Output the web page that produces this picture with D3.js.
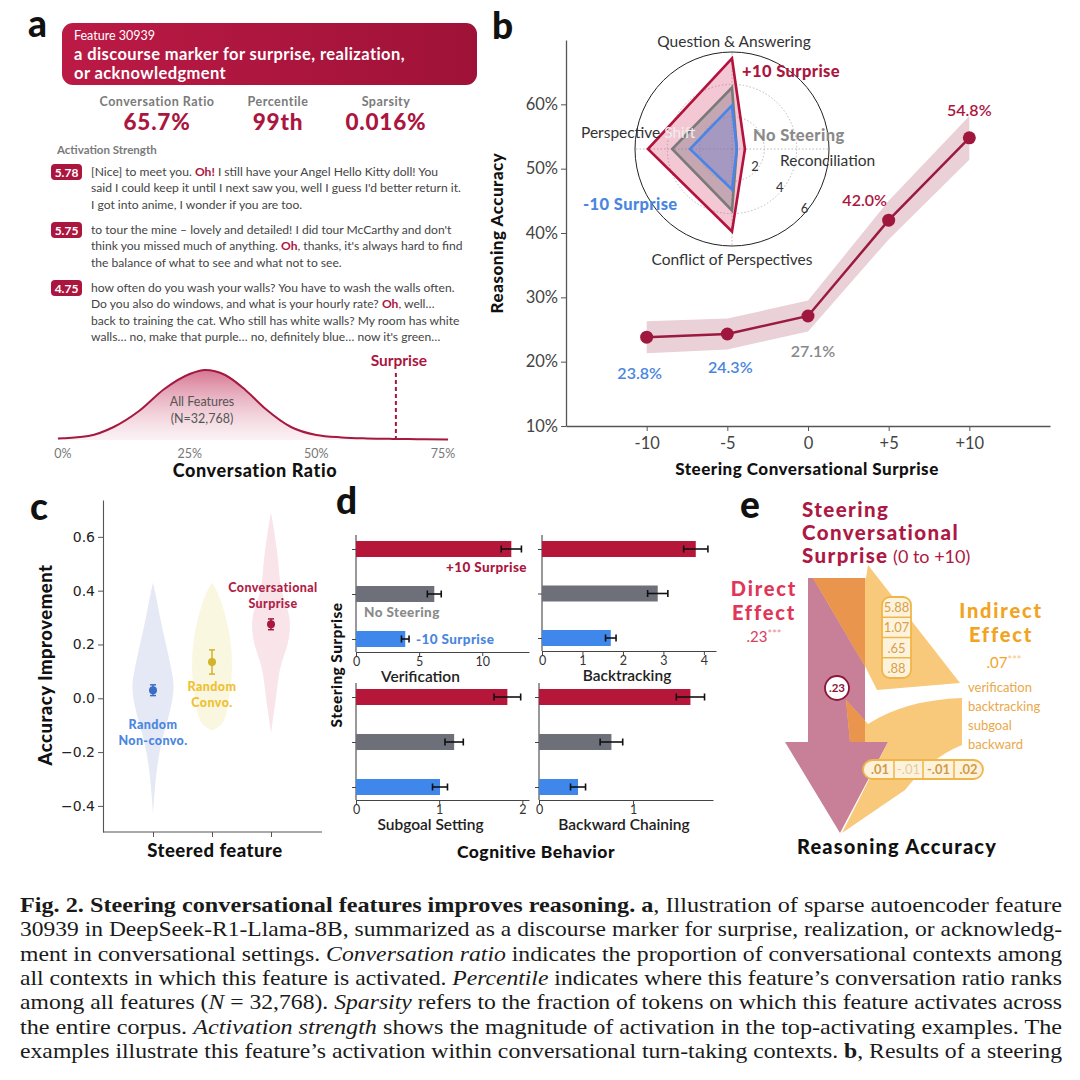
<!DOCTYPE html>
<html><head><meta charset="utf-8">
<script src="https://cdn.jsdelivr.net/npm/d3@7"></script>
<style>
  body { margin: 0; background: #fff; }
  #fig { font-family: Lato, "Open Sans", sans-serif; }
  #fig text { white-space: pre; }
</style></head>
<body>
<svg id="fig" width="1080" height="1080"></svg>
<script>
// ---------- data: panel a ----------
var featureId = "Feature 30939";
var featureDesc = ["a discourse marker for surprise, realization,", "or acknowledgment"];
var statLabels = ["Conversation Ratio", "Percentile", "Sparsity"];
var statValues = ["65.7%", "99th", "0.016%"];
var activations = ["5.78", "5.75", "4.75"];
var examples = [
  ["[Nice] to meet you. *Oh!* I still have your Angel Hello Kitty doll! You",
   "said I could keep it until I next saw you, well I guess I'd better return it.",
   "I got into anime, I wonder if you are too."],
  ["to tour the mine \u2013 lovely and detailed! I did tour McCarthy and don't",
   "think you missed much of anything. *Oh*, thanks, it's always hard to find",
   "the balance of what to see and what not to see."],
  ["how often do you wash your walls? You have to wash the walls often.",
   "Do you also do windows, and what is your hourly rate? *Oh*, well\u2026",
   "back to training the cat. Who still has white walls? My room has white",
   "walls\u2026 no, make that purple\u2026 no, definitely blue\u2026 now it's green\u2026"]
];
var ratioPct = [-1, 0, 5, 10, 15, 20, 25, 28, 32, 36, 40, 45, 50, 55, 60, 65, 70, 76];
var ratioDensity = [1.5, 1.8, 4, 13, 29, 51, 66, 70, 65, 50, 31, 13, 5, 2.6, 1.6, 1.1, 0.8, 0.6];
var ratioTicks = [0, 25, 50, 75];
var surpriseRatio = 65.7;

// ---------- data: panel b ----------
var steerLevels = [-10, -5, 0, 5, 10];
var accuracy = [23.8, 24.3, 27.1, 42.0, 54.8];
var accuracyCI = [2.5, 2.4, 2.4, 3.0, 3.4];
var accTicks = [10, 20, 30, 40, 50, 60];
var radarAxes = ["Question & Answering", "Reconciliation", "Conflict of Perspectives", "Perspective Shift"];
var radarPlus10 = [5.6, 0.8, 5.1, 5.2];
var radarNoSteer = [3.8, 0.3, 3.8, 3.7];
var radarMinus10 = [2.7, 0.3, 2.5, 2.6];
var radarRings = [2, 4, 6];

// ---------- data: panel c ----------
var steeredFeatures = ["Random Non-convo.", "Random Convo.", "Conversational Surprise"];
var improvementMean = [0.03, 0.135, 0.275];
var improvementErr = [0.02, 0.045, 0.02];
var improvementTicks = [-0.4, -0.2, 0.0, 0.2, 0.4, 0.6];
// violin outlines: [value, half width]
var violinNonConvo = [[-0.43, 0], [-0.35, 1.5], [-0.25, 4], [-0.15, 9], [-0.08, 15], [0, 20], [0.05, 21], [0.1, 19], [0.2, 13], [0.3, 7], [0.38, 3], [0.43, 0]];
var violinConvo = [[-0.12, 0], [-0.1, 11], [-0.05, 15], [0, 17], [0.05, 19], [0.1, 20], [0.15, 20], [0.2, 19], [0.25, 17], [0.3, 14], [0.35, 10], [0.4, 5], [0.43, 0]];
var violinSurprise = [[-0.13, 0], [-0.05, 3], [0, 5], [0.1, 8], [0.15, 12], [0.2, 17], [0.25, 19], [0.3, 19], [0.35, 15], [0.4, 10], [0.45, 8.5], [0.5, 7.5], [0.55, 6], [0.6, 4], [0.65, 2], [0.69, 0]];

// ---------- data: panel d ----------
var steerGroups = ["+10 Surprise", "No Steering", "-10 Surprise"];
var behaviors = ["Verification", "Backtracking", "Subgoal Setting", "Backward Chaining"];
var verification = [12.3, 6.2, 3.9];
var verificationErr = [0.8, 0.55, 0.3];
var backtracking = [3.8, 2.86, 1.7];
var backtrackingErr = [0.3, 0.25, 0.13];
var subgoal = [1.82, 1.18, 1.01];
var subgoalErr = [0.16, 0.11, 0.09];
var backward = [1.61, 0.77, 0.415];
var backwardErr = [0.15, 0.12, 0.08];
var behaviorTicks = [[0, 5, 10], [0, 1, 2, 3, 4], [0, 1, 2], [0, 1]];
var behaviorMax = [13.7, 4.3, 2.08, 1.85];

// ---------- data: panel e ----------
var mediators = ["verification", "backtracking", "subgoal", "backward"];
var pathA = ["5.88", "1.07", ".65", ".88"];
var pathB = [".01", "-.01", "-.01", ".02"];
var directEffect = ".23";
var indirectEffect = ".07";

// ---------- styles ----------
var CRIMSON = "#ab163f", BLUE = "#4a86e0", GRAY = "#7d7d7d";
var svg = d3.select("#fig");
var defs = svg.append("defs");

function letter(t, x, y) {
  svg.append("text").attr("x", x).attr("y", y).text(t)
    .style("font-size", "37px").style("font-weight", 900).attr("fill", "#111");
}

// =============== panel a ===============
var hdr = defs.append("linearGradient").attr("id", "hdr");
hdr.append("stop").attr("offset", 0).attr("stop-color", "#bb1a45");
hdr.append("stop").attr("offset", 1).attr("stop-color", "#9f1238");
var ga = svg.append("g");
letter("a", 28, 37);
ga.append("rect").attr("x", 62).attr("y", 23).attr("width", 415).attr("height", 62).attr("rx", 11).attr("fill", "url(#hdr)");
ga.append("text").attr("x", 74).attr("y", 40).text(featureId).attr("fill", "#fff").style("font-size", "12.5px");
featureDesc.forEach(function(t, i) {
  ga.append("text").attr("x", 74).attr("y", 60 + i * 19).text(t).attr("fill", "#fff")
    .style("font-size", "16.5px").style("font-weight", 700).style("letter-spacing", "0.4px");
});
var statX = [157, 278, 386];
statLabels.forEach(function(t, i) {
  ga.append("text").attr("x", statX[i]).attr("y", 106).attr("text-anchor", "middle").text(t)
    .attr("fill", "#7a7a7a").style("font-size", "12.5px").style("font-weight", 700).style("letter-spacing", "0.5px");
  ga.append("text").attr("x", statX[i]).attr("y", 130).attr("text-anchor", "middle").text(statValues[i])
    .attr("fill", CRIMSON).style("font-size", "22.5px").style("font-weight", 900).style("letter-spacing", "0.8px");
});
ga.append("text").attr("x", 57).attr("y", 154).text("Activation Strength").attr("fill", "#7a7a7a")
  .style("font-size", "11.5px").style("font-weight", 700);

var exTop = [172, 230, 288];
examples.forEach(function(lines, k) {
  ga.append("rect").attr("x", 51).attr("y", exTop[k] - 8).attr("width", 31).attr("height", 16).attr("rx", 4).attr("fill", CRIMSON);
  ga.append("text").attr("x", 66.5).attr("y", exTop[k] + 4.5).attr("text-anchor", "middle").text(activations[k])
    .attr("fill", "#fff").style("font-size", "12px").style("font-weight", 700);
  lines.forEach(function(line, j) {
    var t = ga.append("text").attr("x", 91).attr("y", exTop[k] + 4 + j * 16.4)
      .attr("fill", "#444").style("font-size", "12.1px");
    line.split("*").forEach(function(part, p) {
      var s = t.append("tspan").text(part);
      if (p % 2 === 1) s.attr("fill", CRIMSON).style("font-weight", 700);
    });
  });
});

// distribution of conversation ratio
var rx = d3.scaleLinear().domain([0, 75]).range([63, 443]);
var ry = d3.scaleLinear().domain([0, 70]).range([440, 370]);
var dg = defs.append("linearGradient").attr("id", "dens").attr("x1", 0).attr("x2", 0).attr("y1", 0).attr("y2", 1);
dg.append("stop").attr("offset", 0).attr("stop-color", "#c9486e").attr("stop-opacity", 0.75);
dg.append("stop").attr("offset", 1).attr("stop-color", "#f3d9e0").attr("stop-opacity", 0.35);
var dens = ratioPct.map(function(p, i) { return [p, ratioDensity[i]]; });
ga.append("path").datum(dens)
  .attr("d", d3.area().curve(d3.curveMonotoneX).x(function(d) { return rx(d[0]); }).y0(ry(0)).y1(function(d) { return ry(d[1]); }))
  .attr("fill", "url(#dens)");
ga.append("path").datum(dens)
  .attr("d", d3.line().curve(d3.curveMonotoneX).x(function(d) { return rx(d[0]); }).y(function(d) { return ry(d[1]); }))
  .attr("fill", "none").attr("stroke", "#a5183f").attr("stroke-width", 2);
ga.append("line").attr("x1", rx(surpriseRatio)).attr("x2", rx(surpriseRatio)).attr("y1", 373).attr("y2", ry(0))
  .attr("stroke", "#a5183f").attr("stroke-width", 2).attr("stroke-dasharray", "4,3");
ga.append("text").attr("x", rx(surpriseRatio) + 3).attr("y", 366).attr("text-anchor", "middle").text("Surprise")
  .attr("fill", CRIMSON).style("font-size", "15.5px").style("font-weight", 700);
ga.append("text").attr("x", 202).attr("y", 406).attr("text-anchor", "middle").text("All Features").attr("fill", "#555").style("font-size", "12.5px");
ga.append("text").attr("x", 202).attr("y", 423).attr("text-anchor", "middle").text("(N=32,768)").attr("fill", "#555").style("font-size", "12.5px");
ratioTicks.forEach(function(t) {
  ga.append("text").attr("x", rx(t)).attr("y", 458).attr("text-anchor", "middle").text(t + "%")
    .attr("fill", "#777").style("font-size", "12.5px");
});
ga.append("text").attr("x", 255).attr("y", 477).attr("text-anchor", "middle").text("Conversation Ratio")
  .attr("fill", "#111").style("font-size", "18px").style("font-weight", 900).style("letter-spacing", "0.6px");

// =============== panel b ===============
var gb = svg.append("g");
letter("b", 492, 39);
var bx = d3.scaleLinear().domain([-15, 15]).range([566, 1050]);
var by = d3.scaleLinear().domain([10, 70]).range([426, 40]);
var yAx = gb.append("g").attr("transform", "translate(566,0)")
  .call(d3.axisLeft(by).tickValues(accTicks).tickFormat(function(d) { return d + "%"; }).tickSize(5).tickSizeOuter(0));
var xAx = gb.append("g").attr("transform", "translate(0,426)")
  .call(d3.axisBottom(bx).tickValues(steerLevels).tickFormat(function(d) { return d > 0 ? "+" + d : d; }).tickSize(5).tickSizeOuter(0));
[yAx, xAx].forEach(function(ax) {
  ax.select(".domain").attr("stroke", "#555").attr("stroke-width", 1.3);
  ax.selectAll(".tick line").attr("stroke", "#555");
  ax.selectAll(".tick text").attr("fill", "#444").style("font-size", "16.5px").style("font-family", "Lato");
});
yAx.selectAll(".tick text").attr("x", -8);
xAx.selectAll(".tick text").attr("y", 11);
gb.append("text").attr("transform", "translate(503,233) rotate(-90)").attr("text-anchor", "middle").text("Reasoning Accuracy")
  .attr("fill", "#111").style("font-size", "17px").style("font-weight", 900).style("letter-spacing", "0.5px");
gb.append("text").attr("x", 807).attr("y", 475).attr("text-anchor", "middle").text("Steering Conversational Surprise")
  .attr("fill", "#111").style("font-size", "17px").style("font-weight", 900).style("letter-spacing", "0.5px");

var accPts = steerLevels.map(function(s, i) { return { s: s, v: accuracy[i], ci: accuracyCI[i] }; });
gb.append("path").datum(accPts)
  .attr("d", d3.area().x(function(d) { return bx(d.s); }).y0(function(d) { return by(d.v - d.ci); }).y1(function(d) { return by(d.v + d.ci); }))
  .attr("fill", "#ead0d7");
gb.append("path").datum(accPts)
  .attr("d", d3.line().x(function(d) { return bx(d.s); }).y(function(d) { return by(d.v); }))
  .attr("fill", "none").attr("stroke", "#9b1a3f").attr("stroke-width", 2.5);
gb.selectAll("circle.acc").data(accPts).enter().append("circle")
  .attr("cx", function(d) { return bx(d.s); }).attr("cy", function(d) { return by(d.v); }).attr("r", 6.5).attr("fill", "#a0173e");
var accLabelOff = [[-7, 42], [3, 39], [5, 41], [-24, -14], [0, -22]];
var accLabelCol = [BLUE, BLUE, "#888", CRIMSON, CRIMSON];
gb.selectAll("text.acc").data(accPts).enter().append("text")
  .attr("x", function(d, i) { return bx(d.s) + accLabelOff[i][0]; })
  .attr("y", function(d, i) { return by(d.v) + accLabelOff[i][1]; })
  .attr("text-anchor", "middle").text(function(d) { return d.v.toFixed(1) + "%"; })
  .attr("fill", function(d, i) { return accLabelCol[i]; }).style("font-size", "16px").style("font-weight", 600);

// radar
var rc = { x: 732, y: 149 };
var rr = d3.scaleLinear().domain([0, 6]).range([0, 97]);
var gr = gb.append("g").attr("transform", "translate(" + rc.x + "," + rc.y + ")");
gr.append("circle").attr("r", rr(6)).attr("fill", "#fff").attr("stroke", "#222").attr("stroke-width", 1);
radarRings.slice(0, 2).forEach(function(v) {
  gr.append("circle").attr("r", rr(v)).attr("fill", "none").attr("stroke", "#bbb").attr("stroke-dasharray", "1.5,2");
});
radarAxes.forEach(function(a, i) {
  var ang = i * Math.PI / 2;
  gr.append("line").attr("x1", 0).attr("y1", 0).attr("x2", rr(6) * Math.sin(ang)).attr("y2", -rr(6) * Math.cos(ang))
    .attr("stroke", "#bbb").attr("stroke-dasharray", "1.5,2");
});
var radarLine = d3.lineRadial().angle(function(d, i) { return i * Math.PI / 2; }).radius(function(d) { return rr(d); }).curve(d3.curveLinearClosed);
[[radarPlus10, "#b3123d", "rgba(214,70,110,0.3)"], [radarNoSteer, "#7a7a7a", "rgba(110,110,120,0.35)"], [radarMinus10, "#4a84e6", "rgba(110,130,220,0.35)"]]
  .forEach(function(s) {
    gr.append("path").attr("d", radarLine(s[0])).attr("fill", s[2]).attr("stroke", s[1]).attr("stroke-width", 2.6).attr("stroke-linejoin", "miter");
  });
var ringAng = 40 * Math.PI / 180;
radarRings.forEach(function(v) {
  gr.append("text").attr("x", (rr(v) - 10) * Math.cos(ringAng) + 6).attr("y", (rr(v) - 10) * Math.sin(ringAng) + 8)
    .attr("text-anchor", "middle").text(v).attr("fill", "#333").style("font-size", "13px");
});
gb.append("text").attr("x", 734).attr("y", 47).attr("text-anchor", "middle").text(radarAxes[0]).attr("fill", "#333").style("font-size", "15.5px");
gb.append("text").attr("x", 780).attr("y", 166).text(radarAxes[1]).attr("fill", "#333").style("font-size", "15.5px");
gb.append("text").attr("x", 732).attr("y", 265).attr("text-anchor", "middle").text(radarAxes[2]).attr("fill", "#333").style("font-size", "15.5px");
var ps = gb.append("text").attr("x", 581).attr("y", 138).attr("fill", "#333").style("font-size", "15.5px");
ps.append("tspan").text("Perspective");
ps.append("tspan").text(" Shift").attr("fill", "#eee");
gb.append("text").attr("x", 742).attr("y", 77).text(steerGroups[0]).attr("fill", CRIMSON).style("font-size", "16.5px").style("font-weight", 900).style("letter-spacing", "0.4px");
gb.append("text").attr("x", 753).attr("y", 141).text(steerGroups[1]).attr("fill", "#8a8a8a").style("font-size", "16.5px").style("font-weight", 900).style("letter-spacing", "0.4px");
gb.append("text").attr("x", 583).attr("y", 210).text(steerGroups[2]).attr("fill", BLUE).style("font-size", "16.5px").style("font-weight", 900).style("letter-spacing", "0.4px");

// =============== panel c ===============
var gc = svg.append("g");
letter("c", 30, 520);
var cx = d3.scalePoint().domain(steeredFeatures).range([153, 271]);
var cy = d3.scaleLinear().domain([-0.497, 0.737]).range([832, 500]);
var cAx = gc.append("g").attr("transform", "translate(103,0)")
  .call(d3.axisLeft(cy).tickValues(improvementTicks).tickFormat(d3.format(".1f")).tickSize(5).tickSizeOuter(0));
var cxAx = gc.append("g").attr("transform", "translate(0,832)")
  .call(d3.axisBottom(cx).tickFormat("").tickSize(5).tickSizeOuter(0));
cxAx.select(".domain").attr("d", "M103,0H322");
[cAx, cxAx].forEach(function(ax) {
  ax.select(".domain").attr("stroke", "#555").attr("stroke-width", 1.1);
  ax.selectAll(".tick line").attr("stroke", "#555");
});
cAx.selectAll(".tick text").attr("fill", "#222").style("font-size", "14px").style("font-family", "DejaVu Sans");
var violins = [violinNonConvo, violinConvo, violinSurprise];
var violinCol = ["#e5e9f5", "#faf7e1", "#f8e4e9"];
var markCol = ["#3d6cc6", "#d2b32a", "#a8173d"];
violins.forEach(function(v, i) {
  var c0 = cx(steeredFeatures[i]);
  gc.append("path").datum(v)
    .attr("d", d3.area().curve(d3.curveBasis).y(function(d) { return cy(d[0]); })
      .x0(function(d) { return c0 - d[1]; }).x1(function(d) { return c0 + d[1]; }))
    .attr("fill", violinCol[i]);
});
steeredFeatures.forEach(function(f, i) {
  var c0 = cx(f), m = improvementMean[i], e = improvementErr[i];
  gc.append("line").attr("x1", c0).attr("x2", c0).attr("y1", cy(m - e)).attr("y2", cy(m + e)).attr("stroke", markCol[i]).attr("stroke-width", 1.5);
  [m - e, m + e].forEach(function(v) {
    gc.append("line").attr("x1", c0 - 3).attr("x2", c0 + 3).attr("y1", cy(v)).attr("y2", cy(v)).attr("stroke", markCol[i]).attr("stroke-width", 1.5);
  });
  gc.append("circle").attr("cx", c0).attr("cy", cy(m)).attr("r", 4).attr("fill", markCol[i]);
});
var cLab = [[["Random", "Non-convo."], 153, 729, BLUE], [["Random", "Convo."], 212, 691, "#f0c030"], [["Conversational", "Surprise"], 273, 592, "#b01f48"]];
cLab.forEach(function(l) {
  l[0].forEach(function(t, j) {
    gc.append("text").attr("x", l[1]).attr("y", l[2] + j * 15.5).attr("text-anchor", "middle").text(t)
      .attr("fill", l[3]).style("font-size", "12.5px").style("font-weight", 900).style("letter-spacing", "0.4px");
  });
});
gc.append("text").attr("transform", "translate(52,665) rotate(-90)").attr("text-anchor", "middle").text("Accuracy Improvement")
  .attr("fill", "#111").style("font-size", "18.5px").style("font-weight", 900).style("letter-spacing", "0.5px");
gc.append("text").attr("x", 215).attr("y", 857).attr("text-anchor", "middle").text("Steered feature")
  .attr("fill", "#111").style("font-size", "18.5px").style("font-weight", 900).style("letter-spacing", "0.5px");

// =============== panel d ===============
var gd = svg.append("g");
letter("d", 336, 514);
var dVals = [verification, backtracking, subgoal, backward];
var dErrs = [verificationErr, backtrackingErr, subgoalErr, backwardErr];
var dBox = [[356, 529, 535, 652], [542, 716, 535, 651], [356, 529, 683, 800], [539, 713, 683, 800]];
var barCol = ["#b7163b", "#6d7079", "#3f87ea"];
behaviors.forEach(function(b, k) {
  var box = dBox[k];
  var x = d3.scaleLinear().domain([0, behaviorMax[k]]).range([box[0], box[1]]);
  var y = d3.scalePoint().domain(steerGroups).range([box[2] + 14, box[3] - 13]);
  var g = gd.append("g");
  var xa = g.append("g").attr("transform", "translate(0," + box[3] + ")")
    .call(d3.axisBottom(x).tickValues(behaviorTicks[k]).tickFormat(d3.format("d")).tickSize(4).tickSizeOuter(0));
  var ya = g.append("g").attr("transform", "translate(" + box[0] + ",0)")
    .call(d3.axisLeft(y).tickFormat("").tickSize(4).tickSizeOuter(0));
  ya.select(".domain").attr("d", "M0," + box[2] + "V" + box[3]);
  [xa, ya].forEach(function(ax) {
    ax.select(".domain").attr("stroke", "#444").attr("stroke-width", 1.1);
    ax.selectAll(".tick line").attr("stroke", "#444");
  });
  xa.selectAll(".tick text").attr("fill", "#333").attr("y", 5).style("font-size", "12.5px").style("font-family", "Lato");
  steerGroups.forEach(function(s, i) {
    var v = dVals[k][i], e = dErrs[k][i], yc = y(s);
    g.append("rect").attr("x", x(0)).attr("y", yc - 8).attr("width", x(v) - x(0)).attr("height", 16).attr("fill", barCol[i]);
    g.append("line").attr("x1", x(v - e)).attr("x2", x(v + e)).attr("y1", yc).attr("y2", yc).attr("stroke", "#111").attr("stroke-width", 1.6);
    [v - e, v + e].forEach(function(t) {
      g.append("line").attr("x1", x(t)).attr("x2", x(t)).attr("y1", yc - 3.5).attr("y2", yc + 3.5).attr("stroke", "#111").attr("stroke-width", 1.6);
    });
  });
  g.append("text").attr("x", (box[0] + box[1]) / 2 + (k === 0 ? -22 : k === 2 ? -12 : -2)).attr("y", box[3] + 30).attr("text-anchor", "middle").text(b)
    .attr("fill", "#222").style("font-size", "15.5px").style("font-weight", 600);
});
gd.append("text").attr("x", 527).attr("y", 572).attr("text-anchor", "end").text(steerGroups[0]).attr("fill", CRIMSON).style("font-size", "13.5px").style("font-weight", 900).style("letter-spacing", "0.4px");
gd.append("text").attr("x", 364).attr("y", 617).text(steerGroups[1]).attr("fill", "#8a8a8a").style("font-size", "13.5px").style("font-weight", 900).style("letter-spacing", "0.4px");
gd.append("text").attr("x", 416).attr("y", 644).text(steerGroups[2]).attr("fill", BLUE).style("font-size", "13.5px").style("font-weight", 900).style("letter-spacing", "0.4px");
gd.append("text").attr("transform", "translate(342,665) rotate(-90)").attr("text-anchor", "middle").text("Steering Surprise")
  .attr("fill", "#111").style("font-size", "15.5px").style("font-weight", 900).style("letter-spacing", "0.4px");
gd.append("text").attr("x", 536).attr("y", 858).attr("text-anchor", "middle").text("Cognitive Behavior")
  .attr("fill", "#111").style("font-size", "17.5px").style("font-weight", 900).style("letter-spacing", "0.5px");

// =============== panel e ===============
var ge = svg.append("g");
letter("e", 740, 518);
var pinkArrow = "M808,578 L865,578 L865,742 L888,742 L840,833 L785,742 L808,742 Z";
var leg1 = "M813,578 L866,578 L868,565 L960,683 L877,690 L866,668 Z";
var leg2 = "M962,698 Q905,700 868,724 L846,700 L850,742 L888,742 L842,833 L905,790 Q930,758 962,745 Z";
defs.append("clipPath").attr("id", "pinkClip").append("path").attr("d", pinkArrow);
ge.append("path").attr("d", pinkArrow).attr("fill", "#c87f98");
[leg1, leg2].forEach(function(d) { ge.append("path").attr("d", d).attr("fill", "#f9c97b"); });
[leg1, leg2].forEach(function(d) { ge.append("path").attr("d", d).attr("fill", "#e9954e").attr("clip-path", "url(#pinkClip)"); });

["Steering", "Conversational"].forEach(function(t, i) {
  ge.append("text").attr("x", 802).attr("y", 517 + i * 23).text(t).attr("fill", "#ad1844")
    .style("font-size", "20.5px").style("font-weight", 900).style("letter-spacing", "1.4px");
});
var st = ge.append("text").attr("x", 802).attr("y", 563).attr("fill", "#ad1844").style("font-size", "20.5px");
st.append("tspan").text("Surprise").style("font-weight", 900).style("letter-spacing", "1.4px");
st.append("tspan").text(" (0 to +10)").style("font-weight", 400).style("font-size", "18px");
["Direct", "Effect"].forEach(function(t, i) {
  ge.append("text").attr("x", 764).attr("y", 596 + i * 23.5).attr("text-anchor", "middle").text(t).attr("fill", "#e03658")
    .style("font-size", "20px").style("font-weight", 900).style("letter-spacing", "1.8px");
});
var de = ge.append("text").attr("x", 764).attr("y", 642).attr("text-anchor", "middle").attr("fill", "#d8405f").style("font-size", "15px");
de.append("tspan").text(directEffect);
de.append("tspan").text("***").attr("dy", -4).style("font-size", "11px").attr("fill", "#e88a9c");
["Indirect", "Effect"].forEach(function(t, i) {
  ge.append("text").attr("x", 1001).attr("y", 618 + i * 23.5).attr("text-anchor", "middle").text(t).attr("fill", "#f2a321")
    .style("font-size", "20px").style("font-weight", 900).style("letter-spacing", "1.8px");
});
var ie = ge.append("text").attr("x", 1004).attr("y", 668).attr("text-anchor", "middle").attr("fill", "#f0a52a").style("font-size", "15px");
ie.append("tspan").text(indirectEffect);
ie.append("tspan").text("***").attr("dy", -4).style("font-size", "11px").attr("fill", "#f6c47a");
mediators.forEach(function(m, i) {
  ge.append("text").attr("x", 968).attr("y", 692 + i * 19).text(m).attr("fill", "#eaa84a").style("font-size", "13px");
});
// path a coefficients box
ge.append("rect").attr("x", 882).attr("y", 597).attr("width", 29).attr("height", 81).attr("rx", 8)
  .attr("fill", "#fdf3dc").attr("stroke", "#f0b548").attr("stroke-width", 1.8);
pathA.forEach(function(v, i) {
  if (i > 0) ge.append("line").attr("x1", 882).attr("x2", 911).attr("y1", 597 + i * 20.25).attr("y2", 597 + i * 20.25).attr("stroke", "#f0b548").attr("stroke-width", 1.5);
  ge.append("text").attr("x", 896.5).attr("y", 612 + i * 20.25).attr("text-anchor", "middle").text(v)
    .attr("fill", "#d9a04a").style("font-size", "13px");
});
// path b coefficients box
ge.append("rect").attr("x", 863).attr("y", 760).attr("width", 120).attr("height", 19).attr("rx", 9.5)
  .attr("fill", "#fdf3dc").attr("stroke", "#f0b548").attr("stroke-width", 1.8);
var bw = [28, 29, 31, 29], bxs = [866];
for (var i = 1; i < 4; i++) bxs.push(bxs[i - 1] + bw[i - 1]);
pathB.forEach(function(v, i) {
  if (i > 0) ge.append("line").attr("x1", bxs[i]).attr("x2", bxs[i]).attr("y1", 760).attr("y2", 779).attr("stroke", "#f0b548").attr("stroke-width", 1.5);
  ge.append("text").attr("x", bxs[i] + bw[i] / 2).attr("y", 774).attr("text-anchor", "middle").text(v)
    .attr("fill", i === 1 ? "#e8c9a0" : "#d49a45").style("font-size", "13px").style("font-weight", i === 1 ? 400 : 700);
});
ge.append("circle").attr("cx", 837).attr("cy", 688).attr("r", 12).attr("fill", "#fff").attr("stroke", "#8c1538").attr("stroke-width", 1.8);
ge.append("text").attr("x", 837).attr("y", 692).attr("text-anchor", "middle").text(directEffect).attr("fill", "#8c1538").style("font-size", "11.5px").style("font-weight", 700);
ge.append("text").attr("x", 897).attr("y", 854).attr("text-anchor", "middle").text("Reasoning Accuracy")
  .attr("fill", "#111").style("font-size", "20px").style("font-weight", 900).style("letter-spacing", "1.2px");

// =============== caption ===============
var caption = [
  [["Fig. 2. Steering conversational features improves reasoning. a", "b"], [", Illustration of sparse autoencoder feature", ""]],
  [["30939 in DeepSeek-R1-Llama-8B, summarized as a discourse marker for surprise, realization, or acknowledg-", ""]],
  [["ment in conversational settings. ", ""], ["Conversation ratio", "i"], [" indicates the proportion of conversational contexts among", ""]],
  [["all contexts in which this feature is activated. ", ""], ["Percentile", "i"], [" indicates where this feature\u2019s conversation ratio ranks", ""]],
  [["among all features (", ""], ["N", "i"], [" = 32,768). ", ""], ["Sparsity", "i"], [" refers to the fraction of tokens on which this feature activates across", ""]],
  [["the entire corpus. ", ""], ["Activation strength", "i"], [" shows the magnitude of activation in the top-activating examples. The", ""]],
  [["examples illustrate this feature\u2019s activation within conversational turn-taking contexts. ", ""], ["b", "b"], [", Results of a steering", ""]]
];
caption.forEach(function(line, i) {
  var t = svg.append("text").attr("x", 20).attr("y", 912 + i * 24.3).attr("textLength", 1042).attr("lengthAdjust", "spacingAndGlyphs")
    .attr("fill", "#1a1a1a").style("font-family", "'Liberation Serif', 'DejaVu Serif', serif").style("font-size", "21px");
  line.forEach(function(seg) {
    var s = t.append("tspan").text(seg[0]);
    if (seg[1] === "b") s.style("font-weight", 700);
    if (seg[1] === "i") s.style("font-style", "italic");
  });
});
</script>
</body></html>
